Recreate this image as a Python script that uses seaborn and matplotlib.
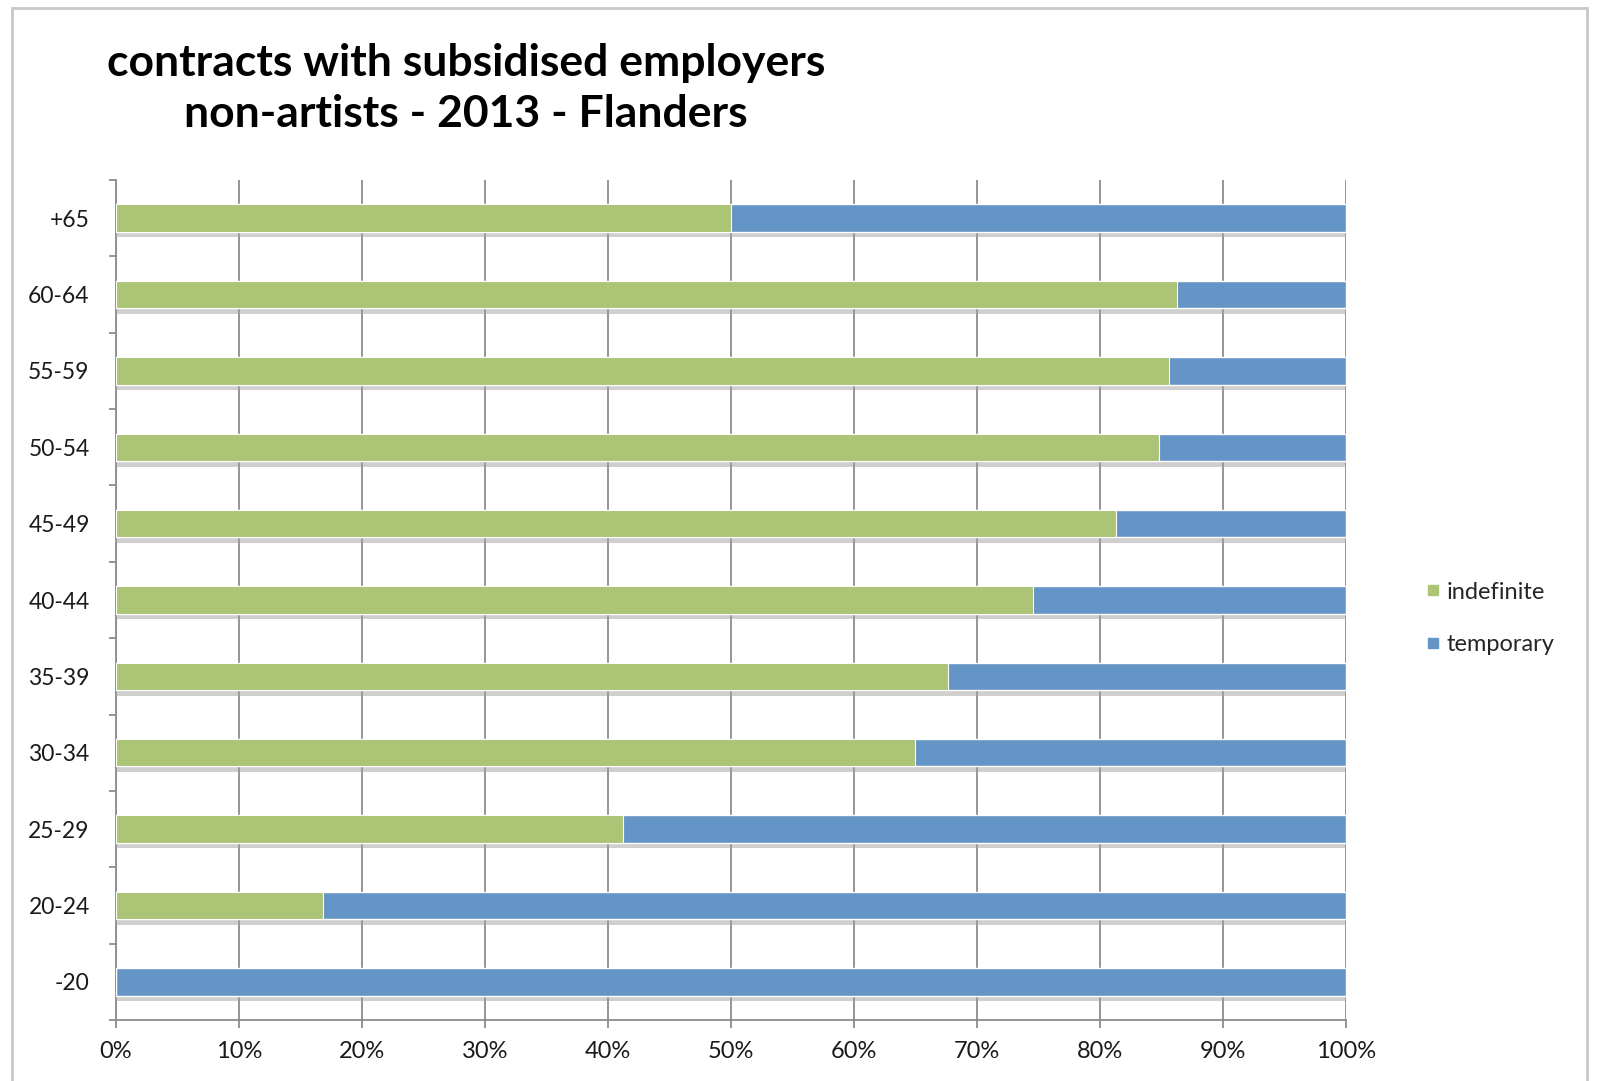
import matplotlib
matplotlib.use("Agg")
import matplotlib.pyplot as plt
import matplotlib.patheffects as pe
from matplotlib.lines import Line2D
from matplotlib.patches import Rectangle
from matplotlib.ticker import FixedLocator, PercentFormatter
import pandas as pd
import seaborn as sns

# data (share of contracts, %)
age_groups = ['+65', '60-64', '55-59', '50-54', '45-49', '40-44',
              '35-39', '30-34', '25-29', '20-24', '-20']
indefinite = [50.0, 86.2, 85.6, 84.8, 81.3, 74.5, 67.6, 64.9, 41.2, 16.8, 0.0]
temporary = [50.0, 13.8, 14.4, 15.2, 18.7, 25.5, 32.4, 35.1, 58.8, 83.2, 100.0]
x_ticks = [0, 10, 20, 30, 40, 50, 60, 70, 80, 90, 100]

green = '#abc476'
blue = '#6595c7'
grid_grey = '#8c8c8c'

df = pd.DataFrame({'age': age_groups,
                   'indefinite': indefinite,
                   'temporary': temporary})
df['total'] = df['indefinite'] + df['temporary']

sns.set_theme(style='white')
plt.rcParams['font.family'] = ['Lato', 'DejaVu Sans']

fig = plt.figure(figsize=(15.98, 10.81), dpi=100)
ax = fig.add_axes([0.0726, 0.0564, 0.7700, 0.7771])

# stacked bars: total drawn in blue, indefinite part on top in green
sns.barplot(data=df, x='total', y='age', order=age_groups, orient='h',
            color=blue, saturation=1, width=0.36, ax=ax, zorder=3)
for p in ax.patches:
    p.set_path_effects([pe.SimplePatchShadow(offset=(0, -4), shadow_rgbFace='#a0a0a0', alpha=0.5),
                        pe.Normal()])
sns.barplot(data=df, x='indefinite', y='age', order=age_groups, orient='h',
            color=green, saturation=1, width=0.36, ax=ax, zorder=4,
            edgecolor='white', linewidth=0.8)

ax.set_xlim(0, 100)
ax.set_ylim(len(age_groups) - 0.5, -0.5)
ax.xaxis.set_major_locator(FixedLocator(x_ticks))
ax.xaxis.set_major_formatter(PercentFormatter(decimals=0))
ax.grid(axis='x', color=grid_grey, linewidth=1.3, zorder=0)
ax.grid(axis='y', visible=False)
ax.set_axisbelow(True)

for side in ['top', 'right']:
    ax.spines[side].set_visible(False)
for side in ['left', 'bottom']:
    ax.spines[side].set_color(grid_grey)
    ax.spines[side].set_linewidth(1.3)

ax.set_xlabel('')
ax.set_ylabel('')
ax.tick_params(axis='x', bottom=True, length=6, width=1.3, color=grid_grey,
               labelsize=17, pad=9, labelcolor='#1a1a1a')
ax.tick_params(axis='y', left=False, length=0, labelsize=16.5, pad=19, labelcolor='#1a1a1a')
ax.yaxis.set_minor_locator(FixedLocator([i - 0.5 for i in range(len(age_groups) + 1)]))
ax.tick_params(axis='y', which='minor', left=True, length=5, width=1.3, color=grid_grey)

fig.text(0.2916, 0.918, 'contracts with subsidised employers\nnon-artists - 2013 - Flanders',
         ha='center', va='center', fontsize=32, fontweight='bold', linespacing=1.35,
         color='black')

handles = [Line2D([], [], marker='s', linestyle='none', markersize=7,
                  markerfacecolor=c, markeredgecolor=c) for c in (green, blue)]
fig.legend(handles, ['indefinite', 'temporary'], loc='center left',
           bbox_to_anchor=(0.8785, 0.428), frameon=False, fontsize=17,
           handletextpad=0.2, labelspacing=1.34, handlelength=0.7)

fig.patches.append(Rectangle((0.0077, -0.01), 0.9853, 1.0025, transform=fig.transFigure,
                             fill=False, edgecolor='#c8c8c8', linewidth=2))

fig.savefig('out.png', dpi=100)
